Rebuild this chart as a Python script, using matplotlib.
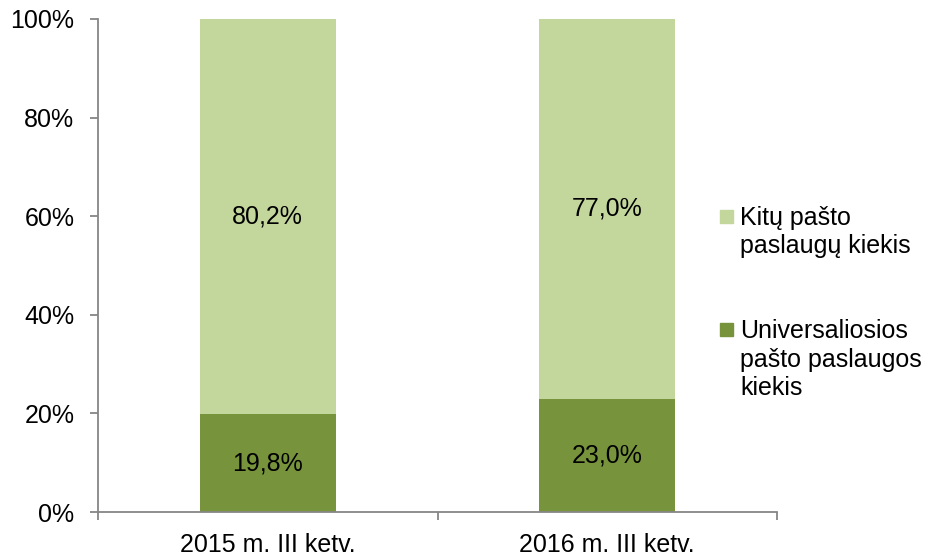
import matplotlib.pyplot as plt
from matplotlib.patches import Rectangle
from matplotlib.ticker import FixedLocator

plt.rcParams['font.family'] = ['Liberation Sans', 'DejaVu Sans']

categories = ["2015 m. III ketv.", "2016 m. III ketv."]
universal = [19.8, 23.0]
other = [80.2, 77.0]
labels_universal = ["19,8%", "23,0%"]
labels_other = ["80,2%", "77,0%"]
legend_other = "Kitų pašto\npaslaugų kiekis"
legend_universal = "Universaliosios\npašto paslaugos\nkiekis"

c_light = "#C3D69B"
c_dark = "#77933C"
c_axis = "#868686"
fs = 18

fig = plt.figure(figsize=(9.35, 5.55), dpi=100)
ax = fig.add_axes([98 / 935, 1 - 512 / 555, (777 - 98) / 935, (512 - 19) / 555])

x = range(len(categories))
ax.bar(x, universal, width=0.4, color=c_dark)
ax.bar(x, other, width=0.4, bottom=universal, color=c_light)

for i in x:
    ax.text(i, universal[i] / 2, labels_universal[i], ha="center", va="center", fontsize=fs)
    ax.text(i, universal[i] + other[i] / 2, labels_other[i], ha="center", va="center", fontsize=fs)

ax.set_xlim(-0.5, 1.5)
ax.set_ylim(0, 100)
ax.set_yticks([0, 20, 40, 60, 80, 100])
ax.set_yticklabels(["0%", "20%", "40%", "60%", "80%", "100%"])
ax.set_xticks(list(x))
ax.set_xticklabels(categories)
ax.xaxis.set_minor_locator(FixedLocator([-0.5, 0.5, 1.5]))
ax.tick_params(axis="x", which="major", length=0, pad=15, labelsize=fs)
ax.tick_params(axis="x", which="minor", length=6, color=c_axis, width=1.3)
ax.tick_params(axis="y", length=6, color=c_axis, width=1.3, pad=11, labelsize=fs)

for s in ["top", "right"]:
    ax.spines[s].set_visible(False)
for s in ["left", "bottom"]:
    ax.spines[s].set_color(c_axis)
    ax.spines[s].set_linewidth(1.3)


# legend, drawn line by line (first baseline given in pixels from top)
def legend_entry(color, label, y0):
    fig.patches.append(Rectangle((720 / 935, 1 - (y0 - 2) / 555), 13 / 935, 13 / 555,
                                 transform=fig.transFigure, color=color))
    for k, line in enumerate(label.split("\n")):
        fig.text(740 / 935, 1 - (y0 + 28.5 * k) / 555, line, ha="left",
                 va="baseline", fontsize=fs)


legend_entry(c_light, legend_other, 225)
legend_entry(c_dark, legend_universal, 338)

fig.savefig("out.png", dpi=100)
